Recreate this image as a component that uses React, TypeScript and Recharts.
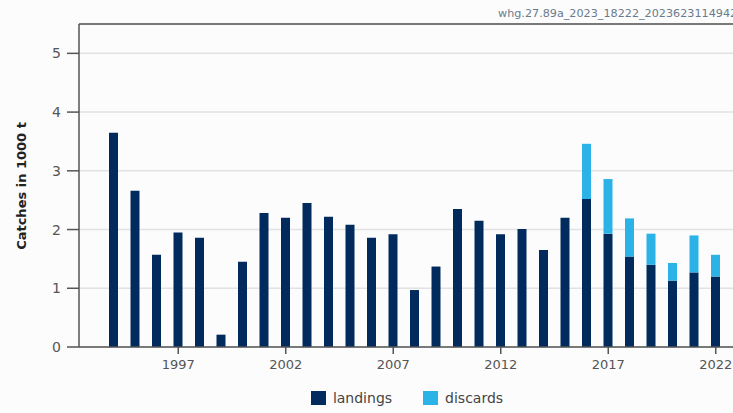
import { BarChart, Bar, XAxis, YAxis, CartesianGrid, Legend, ReferenceLine } from 'recharts';

const years = [
    1994, 1995, 1996, 1997, 1998, 1999, 2000, 2001, 2002, 2003, 2004, 2005, 2006, 2007, 2008,
    2009, 2010, 2011, 2012, 2013, 2014, 2015, 2016, 2017, 2018, 2019, 2020, 2021, 2022,
];
const landings = [
    3.65, 2.66, 1.57, 1.95, 1.86, 0.21, 1.45, 2.28, 2.2, 2.45, 2.22, 2.08, 1.86, 1.92, 0.97,
    1.37, 2.35, 2.15, 1.92, 2.01, 1.65, 2.2, 2.52, 1.93, 1.54, 1.4, 1.13, 1.27, 1.2,
];
const discards = [
    0, 0, 0, 0, 0, 0, 0, 0, 0, 0, 0, 0, 0, 0, 0,
    0, 0, 0, 0, 0, 0, 0, 0.94, 0.93, 0.65, 0.53, 0.3, 0.63, 0.37,
];
const xTicks = [1997, 2002, 2007, 2012, 2017, 2022];
const yTicks = [0, 1, 2, 3, 4, 5];

const LANDINGS = '#002b5c';
const DISCARDS = '#2bb3e8';
const FONT = '"DejaVu Sans", Verdana, sans-serif';

const legendItems = [
    { name: 'landings', color: LANDINGS },
    { name: 'discards', color: DISCARDS },
];

const data = years.map((year, i) => ({
    year,
    landings: landings[i],
    discards: discards[i] || null,
}));

const YLabel = () => (
    <text
        x={22}
        y={186}
        transform="rotate(-90 22 186)"
        textAnchor="middle"
        dominantBaseline="middle"
        fontFamily={FONT}
        fontSize={13}
        fontWeight="bold"
        fill="#222"
    >
        Catches in 1000 t
    </text>
);

// fixed order, same as the source: landings first
const LegendContent = () => (
    <div style={{ display: 'flex', justifyContent: 'center', gap: 31, fontSize: 14, color: '#444' }}>
        {legendItems.map((item) => (
            <div key={item.name} style={{ display: 'flex', alignItems: 'center', gap: 7 }}>
                <span style={{ width: 15, height: 14, background: item.color, display: 'inline-block' }} />
                <span>{item.name}</span>
            </div>
        ))}
    </div>
);

export default function App() {
    return (
        <div
            style={{
                position: 'fixed',
                left: 0,
                top: 0,
                width: 733,
                height: 413,
                overflow: 'hidden',
                background: '#fcfcfc',
                fontFamily: FONT,
            }}
        >
            <div
                style={{
                    position: 'absolute',
                    left: 498,
                    top: 7,
                    fontSize: 11.2,
                    color: '#6a7a8c',
                    whiteSpace: 'nowrap',
                }}
            >
                whg.27.89a_2023_18222_2023623114942
            </div>
            <BarChart
                width={760}
                height={413}
                data={data}
                margin={{ top: 24, right: 9.5, bottom: 0, left: 0 }}
                barSize={9}
            >
                <CartesianGrid vertical={false} stroke="#e2e2e2" strokeWidth={1.5} />
                <ReferenceLine y={5.5} stroke="#555" strokeWidth={1.5} />
                <XAxis
                    dataKey="year"
                    ticks={xTicks}
                    padding={{ left: 24, right: 24 }}
                    height={50}
                    stroke="#555"
                    strokeWidth={1.5}
                    tickSize={7}
                    tick={{ fontSize: 13, fill: '#555', fontFamily: FONT }}
                    tickMargin={6}
                />
                <YAxis
                    domain={[0, 5.5]}
                    ticks={yTicks}
                    width={79}
                    stroke="#555"
                    strokeWidth={1.5}
                    tickSize={12}
                    tickMargin={6}
                    tick={{ fontSize: 14, fill: '#555', fontFamily: FONT }}
                    label={<YLabel />}
                />
                <Legend
                    verticalAlign="bottom"
                    content={<LegendContent />}
                    wrapperStyle={{ position: 'absolute', top: 390, left: 0, width: 814, fontFamily: FONT }}
                />
                <Bar dataKey="landings" name="landings" stackId="a" fill={LANDINGS} isAnimationActive={false} />
                <Bar dataKey="discards" name="discards" stackId="a" fill={DISCARDS} isAnimationActive={false} />
            </BarChart>
        </div>
    );
}
